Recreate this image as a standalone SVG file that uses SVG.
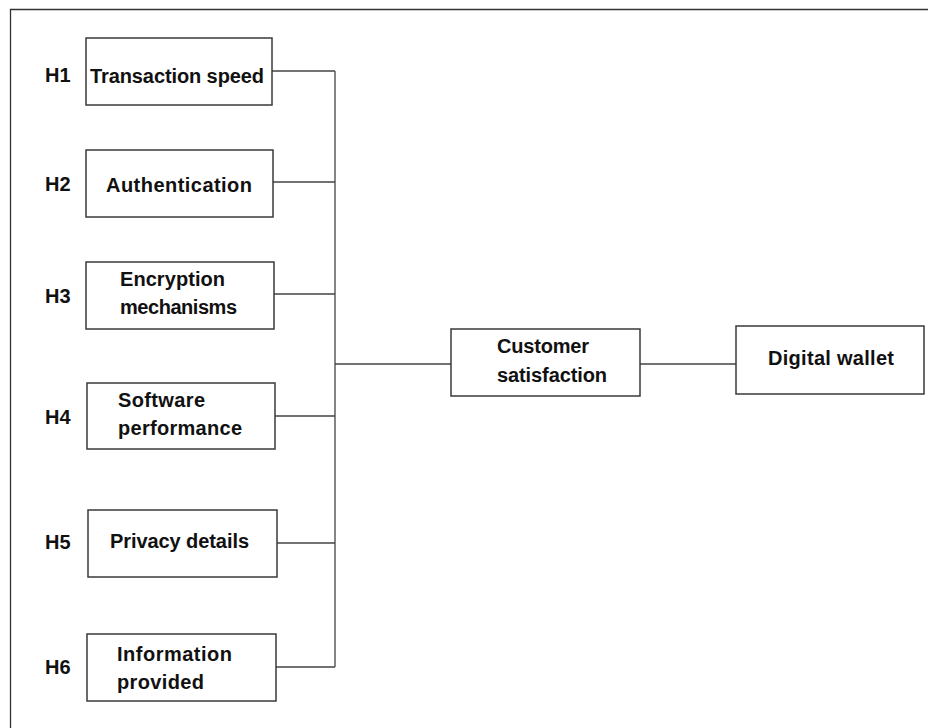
<svg xmlns="http://www.w3.org/2000/svg" width="928" height="728" viewBox="0 0 928 728">
<style>
.box{fill:#fff;stroke:#3a3a3a;stroke-width:1.5}
.t{font-family:"Liberation Sans",Arial,sans-serif;font-weight:bold;font-size:20px;fill:#111}
.c{fill:none;stroke:#444;stroke-width:1.3}
.frame{fill:none;stroke:#333;stroke-width:1.3}
</style>
<rect width="928" height="728" fill="#fff"/>
<path class="frame" d="M10.5 740 V9.5 H940"/>
<g id="connectors">
<path class="c" d="M272 71 H335 M273 182 H335 M274 294 H335 M275 416 H335 M277 543 H335 M276 667 H335 M335 71 V667 M335 364 H451 M640 364 H736"/>
</g>
<g id="h-labels">
<text class="t" x="45" y="82">H1</text>
<text class="t" x="45" y="191">H2</text>
<text class="t" x="45" y="303">H3</text>
<text class="t" x="45" y="424">H4</text>
<text class="t" x="45" y="549">H5</text>
<text class="t" x="45" y="674">H6</text>
</g>
<g id="n1"><rect class="box" x="86" y="38" width="186" height="67"/><text class="t" x="90" y="83" textLength="174">Transaction speed</text></g>
<g id="n2"><rect class="box" x="86" y="150" width="187" height="67"/><text class="t" x="106" y="192" textLength="146">Authentication</text></g>
<g id="n3"><rect class="box" x="86" y="262" width="188" height="67"/><text class="t" x="120" y="286" textLength="105">Encryption</text><text class="t" x="120" y="314" textLength="117">mechanisms</text></g>
<g id="n4"><rect class="box" x="87" y="383" width="188" height="66"/><text class="t" x="118" y="407" textLength="87">Software</text><text class="t" x="118" y="435" textLength="124">performance</text></g>
<g id="n5"><rect class="box" x="88" y="510" width="189" height="67"/><text class="t" x="110" y="548" textLength="139">Privacy details</text></g>
<g id="n6"><rect class="box" x="87" y="634" width="189" height="67"/><text class="t" x="117" y="661" textLength="115">Information</text><text class="t" x="117" y="689" textLength="87">provided</text></g>
<g id="n7"><rect class="box" x="451" y="329" width="189" height="67"/><text class="t" x="497" y="353" textLength="92">Customer</text><text class="t" x="497" y="382" textLength="110">satisfaction</text></g>
<g id="n8"><rect class="box" x="736" y="326" width="188" height="68"/><text class="t" x="768" y="365" textLength="126">Digital wallet</text></g>
</svg>
